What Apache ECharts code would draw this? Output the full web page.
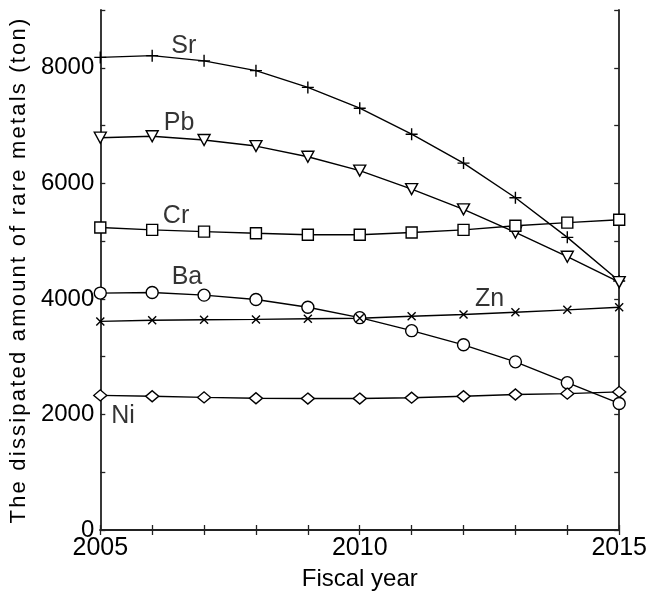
<!DOCTYPE html>
<html><head><meta charset="utf-8">
<script src="https://cdn.jsdelivr.net/npm/echarts@6/dist/echarts.min.js"></script>
<style>html,body{margin:0;padding:0;background:#fff}#c{width:650px;height:596px}</style>
</head><body><div id="c"></div>
<script>
const years = [2005,2006,2007,2008,2009,2010,2011,2012,2013,2014,2015];
const Sr = [8180,8210,8120,7950,7660,7300,6850,6350,5750,5065,4310];
const Pb = [6790,6815,6750,6645,6460,6220,5900,5550,5150,4730,4290];
const Cr = [5235,5195,5165,5135,5110,5110,5150,5195,5265,5320,5370];
const Ba = [4100,4110,4065,3990,3855,3675,3450,3205,2910,2550,2190];
const Zn = [3610,3630,3640,3645,3655,3665,3700,3730,3770,3810,3855];
const Ni = [2330,2315,2295,2280,2275,2275,2290,2315,2345,2360,2390];
const seriesNames = ['Sr','Pb','Cr','Ba','Zn','Ni'];
const labelPos = [[2006.61,8380],[2006.52,7050],[2006.46,5430],[2006.67,4380],[2012.5,4000],[2005.44,1966]];
const yTicks = [0,2000,4000,6000,8000];
const xTickLabels = [2005,2010,2015];
const yName = 'The dissipated amount of rare metals (ton)';

// widen the letter spacing of the y-axis title only (as in the reference)
const origFill = CanvasRenderingContext2D.prototype.fillText;
CanvasRenderingContext2D.prototype.fillText = function(t, x, y, w){
  if (t === yName && 'letterSpacing' in this) {
    const f = this.font;
    this.save();
    this.letterSpacing = '2.2px';
    this.font = f;
    origFill.call(this, t, x, y);
    this.restore();
    this.letterSpacing = '0px';
    this.font = f;
    return;
  }
  return origFill.apply(this, arguments);
};

const font = "'Liberation Sans', Arial, sans-serif";
const plus = 'path://M0,-10 L0,10 M-10,0 L10,0';
const cross = 'path://M-10,-10 L10,10 M-10,10 L10,-10';
const styles = {
  Sr:{symbol:plus,size:12,rot:0},
  Pb:{symbol:'triangle',size:[12,11],rot:180},
  Cr:{symbol:'rect',size:11,rot:0},
  Ba:{symbol:'circle',size:12,rot:0},
  Zn:{symbol:cross,size:8,rot:0},
  Ni:{symbol:'diamond',size:[13,11],rot:0}
};
const dataMap = {Sr,Pb,Cr,Ba,Zn,Ni};
const series = seriesNames.map(n=>({
  name:n,type:'line',xAxisIndex:0,yAxisIndex:0,
  data:years.map((y,i)=>[y,dataMap[n][i]]),
  symbol:styles[n].symbol,symbolSize:styles[n].size,symbolRotate:styles[n].rot,
  showAllSymbol:true,
  lineStyle:{color:'#000',width:1.4},
  itemStyle:{color:'#fff',borderColor:'#000',borderWidth:1.4},
  z:3, silent:true, animation:false
}));
series.push({
  type:'scatter',symbolSize:0,silent:true,animation:false,
  data:seriesNames.map((n,i)=>[labelPos[i][0],labelPos[i][1],n]),
  label:{show:true,position:'inside',formatter:p=>p.value[2],color:'#000',fontSize:25,fontFamily:font}
});
const axisLine={show:true,lineStyle:{color:'#222',width:1.8}};
const tick={show:true,inside:true,length:5,lineStyle:{color:'#222',width:1.3}};
const option={
  animation:false,
  grid:{left:99,right:30,top:10,bottom:64,containLabel:false},
  xAxis:[
    {type:'value',min:2005,max:2015,interval:1,position:'bottom',
     axisLine,axisTick:tick,splitLine:{show:false},
     axisLabel:{color:'#000',fontSize:25,fontFamily:font,margin:6,
       formatter:v=>xTickLabels.includes(v)?String(v):''},
     name:'Fiscal year',nameLocation:'middle',nameGap:37,
     nameTextStyle:{color:'#000',fontSize:24,fontFamily:font}},
    {type:'value',min:2005,max:2015,interval:1,position:'top',
     axisLine,axisTick:tick,splitLine:{show:false},axisLabel:{show:false}}
  ],
  yAxis:[
    {type:'value',min:0,max:9000,interval:1000,position:'left',
     axisLine,axisTick:tick,splitLine:{show:false},
     axisLabel:{color:'#000',fontSize:24,fontFamily:font,margin:6,
       formatter:v=>yTicks.includes(v)?String(v):''},
     name:yName,nameLocation:'middle',nameGap:70,
     nameTextStyle:{color:'#000',fontSize:22,fontFamily:font}},
    {type:'value',min:0,max:9000,interval:1000,position:'right',
     axisLine,axisTick:tick,splitLine:{show:false},axisLabel:{show:false}}
  ],
  series
};
const chart=echarts.init(document.getElementById('c'),null,{renderer:'canvas'});
chart.setOption(option);
</script></body></html>
